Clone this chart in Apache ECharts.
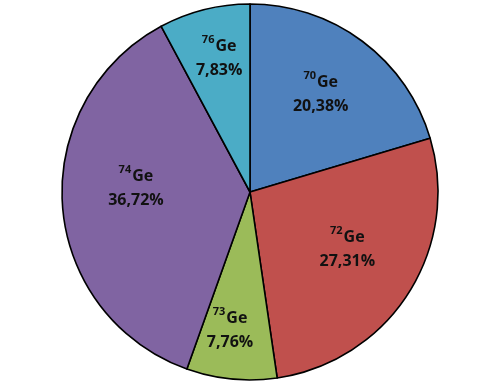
<!DOCTYPE html>
<html>
<head>
<meta charset="utf-8">
<script src="https://cdn.jsdelivr.net/npm/echarts@6/dist/echarts.min.js"></script>
<style>
html,body{margin:0;padding:0;background:#fff;}
#chart{width:500px;height:388px;}
</style>
</head>
<body>
<div id="chart"></div>
<script>
// Data
const isotopes = ['70', '72', '73', '74', '76'];
const element = 'Ge';
const shares = [20.38, 27.31, 7.76, 36.72, 7.83];
const shareLabels = ['20,38%', '27,31%', '7,76%', '36,72%', '7,83%'];

// Styling (label placement tweaks, not data)
const colors = ['#4F81BD', '#C0504D', '#9BBB59', '#8064A2', '#4BACC6'];
const labelRadialFactor = [1.22, 1.19, 1.46, 1.2, 1.39];
const labelNudgeX = [0, 0, -6, 2, 2];
const labelNudgeY = [0, -2, 0, -10, 0];
const CX = 250, CY = 192, R = 188;

const chart = echarts.init(document.getElementById('chart'), null, {renderer: 'canvas'});

const data = isotopes.map((iso, i) => ({
  name: iso + element,
  value: shares[i],
  itemStyle: {color: colors[i]},
  label: {formatter: '{sup|' + iso + '}{b|' + element + '}\n{p|' + shareLabels[i] + '}'}
}));

chart.setOption({
  animation: false,
  series: [{
    type: 'pie',
    center: [CX, CY],
    radius: [0, R],
    startAngle: 90,
    clockwise: true,
    avoidLabelOverlap: false,
    data: data,
    itemStyle: {borderColor: '#000', borderWidth: 1.6},
    emphasis: {disabled: true},
    labelLine: {show: false},
    label: {
      show: true,
      position: 'inside',
      color: '#111',
      fontFamily: 'Open Sans',
      fontWeight: 'bold',
      rich: {
        sup: {fontFamily: 'Open Sans', fontWeight: 'bold', fontSize: 11, color: '#111', verticalAlign: 'top', lineHeight: 20, padding: [0, 1, 0, 0]},
        b: {fontFamily: 'Open Sans', fontWeight: 'bold', fontSize: 16, color: '#111', lineHeight: 24},
        p: {fontFamily: 'Open Sans', fontWeight: 'bold', fontSize: 16, color: '#111', lineHeight: 24}
      }
    },
    labelLayout: function (params) {
      const r = params.labelRect;
      const lx = r.x + r.width / 2;
      const ly = r.y + r.height / 2;
      const i = params.dataIndex;
      const f = labelRadialFactor[i];
      return {
        x: CX + (lx - CX) * f + labelNudgeX[i],
        y: CY + (ly - CY) * f + labelNudgeY[i],
        align: 'center',
        verticalAlign: 'middle'
      };
    }
  }]
});
</script>
</body>
</html>
